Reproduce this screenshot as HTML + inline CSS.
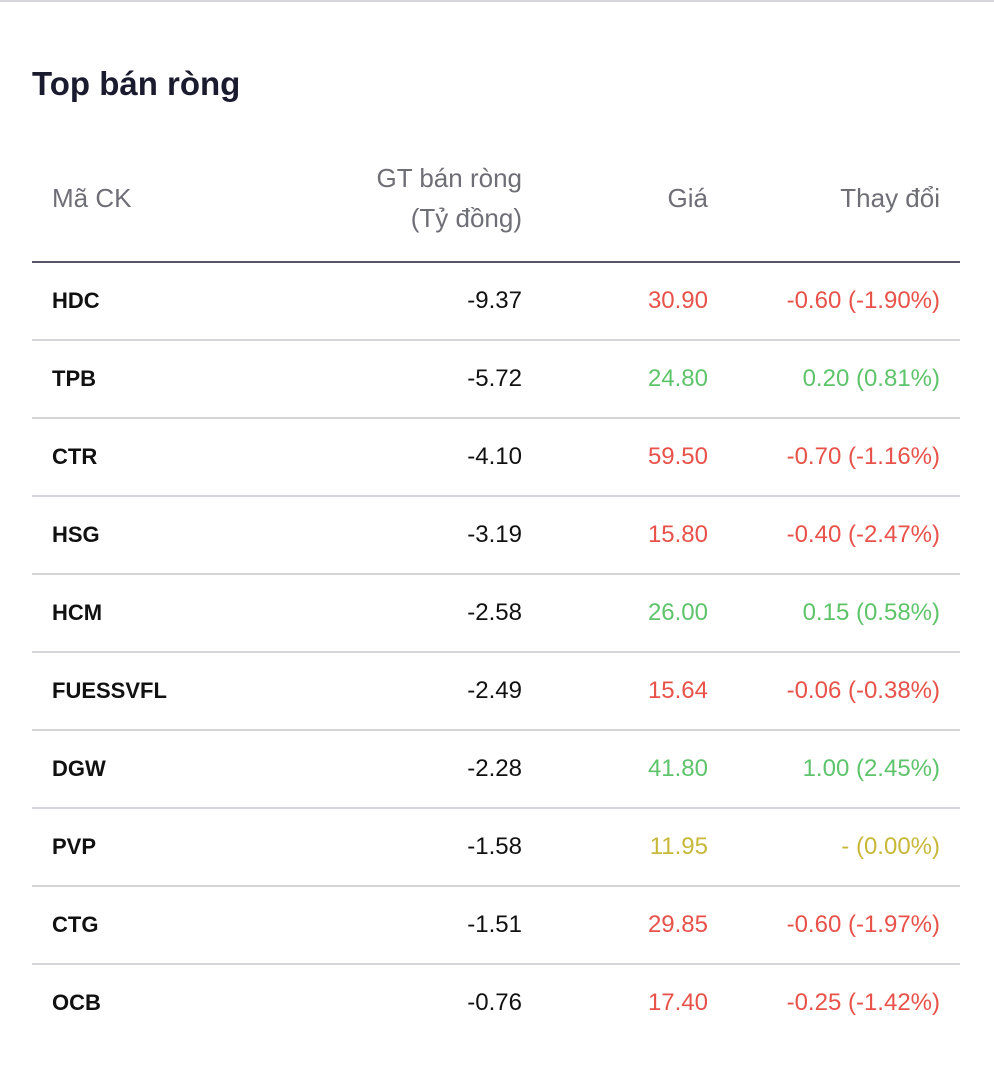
<!DOCTYPE html>
<html><head><meta charset="utf-8"><style>
body{margin:0;width:994px;height:1065px;background:#fff;font-family:"Liberation Sans",sans-serif;position:relative;overflow:hidden}
.topline{position:absolute;left:0;top:0;width:994px;height:2px;background:#d6d6da}
h1{position:absolute;left:32px;top:64px;margin:0;font-size:33px;font-weight:bold;color:#1b1b2f;line-height:40px}
.t{position:absolute;font-size:26px;color:#6e6e76;line-height:30px}
.hdr{position:absolute;left:32px;top:261px;width:928px;height:2px;background:#555563}
.row{position:absolute;left:32px;width:928px;height:78px;border-bottom:2px solid #d4d4da;box-sizing:border-box}
.c{position:absolute;top:0;line-height:76px;font-size:24px}
.n{left:20px;font-weight:bold;color:#111;font-size:22px}
.v{right:438px;color:#111}
.p{right:252px}
.d{right:20px}
.red{color:#e8524a}.green{color:#5ec46b}.yellow{color:#c8b83a}
</style></head><body>
<div class="topline"></div>
<h1>Top bán ròng</h1>
<div class="t" style="left:52px;top:183px">Mã CK</div>
<div class="t" style="right:472px;top:158px;text-align:right;line-height:40px">GT bán ròng<br>(Tỷ đồng)</div>
<div class="t" style="right:286px;top:183px">Giá</div>
<div class="t" style="right:54px;top:183px">Thay đổi</div>
<div class="hdr"></div>
<div id="rows"></div>
<script>
const symbols=["HDC","TPB","CTR","HSG","HCM","FUESSVFL","DGW","PVP","CTG","OCB"];
const netValues=["-9.37","-5.72","-4.10","-3.19","-2.58","-2.49","-2.28","-1.58","-1.51","-0.76"];
const prices=["30.90","24.80","59.50","15.80","26.00","15.64","41.80","11.95","29.85","17.40"];
const changes=["-0.60 (-1.90%)","0.20 (0.81%)","-0.70 (-1.16%)","-0.40 (-2.47%)","0.15 (0.58%)","-0.06 (-0.38%)","1.00 (2.45%)","- (0.00%)","-0.60 (-1.97%)","-0.25 (-1.42%)"];
const trends=["red","green","red","red","green","red","green","yellow","red","red"];
const host=document.getElementById('rows');
symbols.forEach((s,i)=>{
  const r=document.createElement('div');
  r.className='row';
  r.style.top=(263+i*78)+'px';
  if(i===symbols.length-1) r.style.borderBottom='none';
  
  
  const mk=(cls,txt,name)=>{const e=document.createElement('div');e.className='c '+cls;e.textContent=txt;
    
    
    r.appendChild(e);};
  mk('n',s,'symbol-cell');
  mk('v',netValues[i],'net-value-cell');
  mk('p '+trends[i],prices[i],'price-cell');
  mk('d '+trends[i],changes[i],'change-cell');
  host.appendChild(r);
});
</script>
</body></html>
